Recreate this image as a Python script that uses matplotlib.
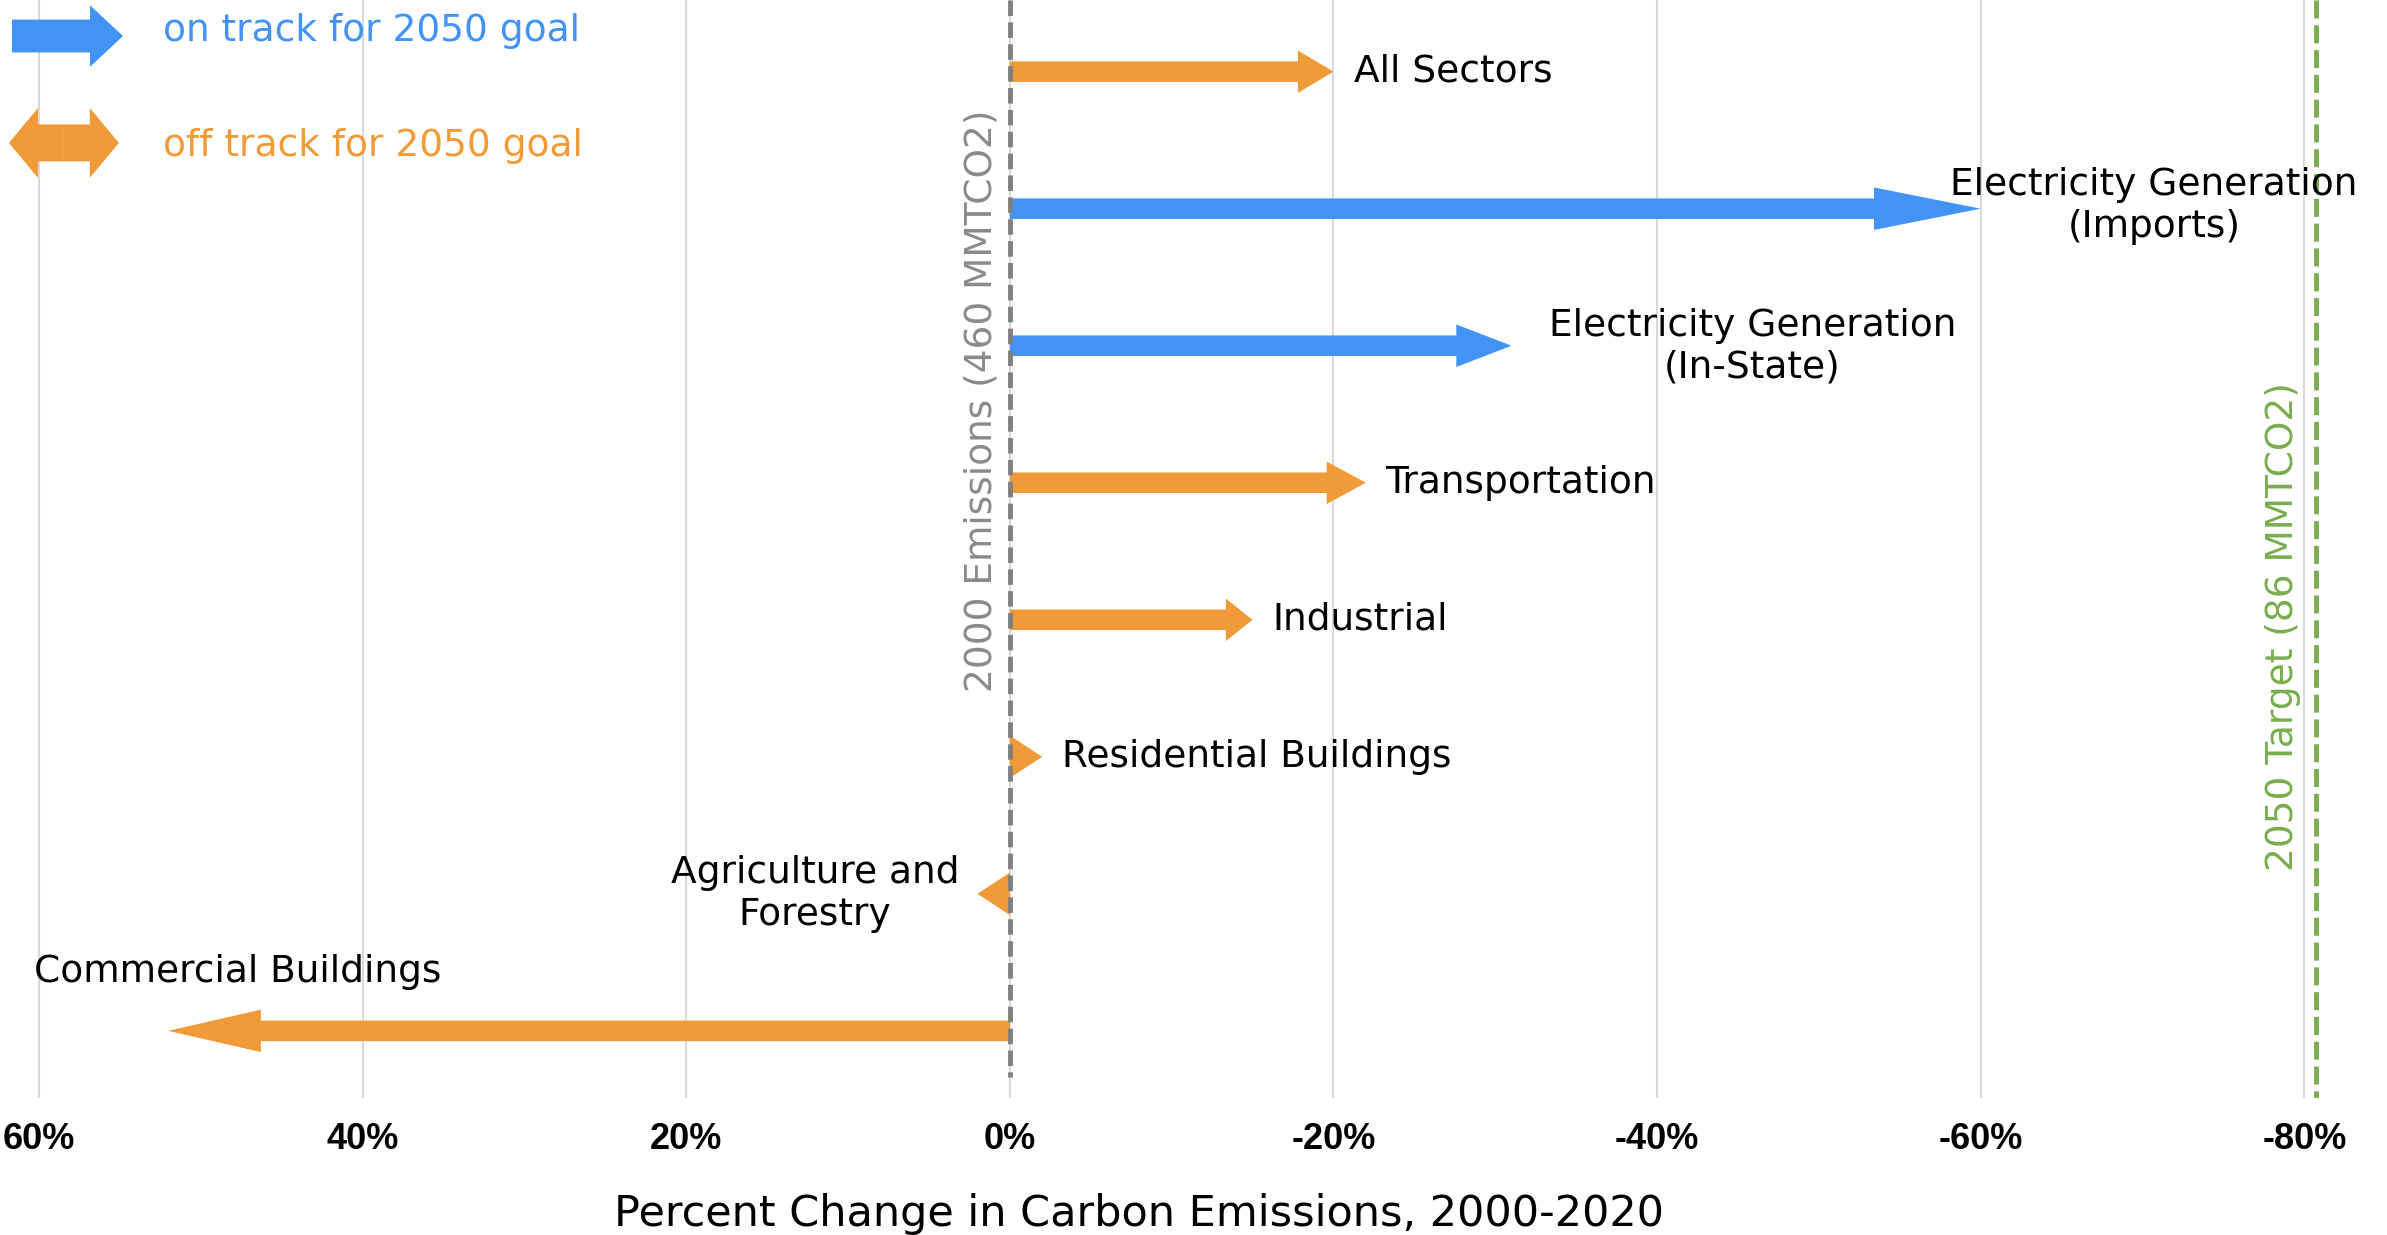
import matplotlib
matplotlib.use("Agg")
import matplotlib.pyplot as plt
from matplotlib.patches import FancyArrow

# data
sectors = ["All Sectors", "Electricity Generation\n(Imports)", "Electricity Generation\n(In-State)",
           "Transportation", "Industrial", "Residential Buildings", "Agriculture and\nForestry",
           "Commercial Buildings"]
change = [-20, -60, -31, -22, -15, -2, 2, 52]   # percent change 2000-2020
on_track = [False, True, True, False, False, False, False, False]
ticks = [60, 40, 20, 0, -20, -40, -60, -80]
tick_labels = ["60%", "40%", "20%", "0%", "-20%", "-40%", "-60%", "-80%"]
target_2050 = -80.7

BLUE = "#4293F5"
ORANGE = "#F09A38"
GREEN = "#79AD4E"

# label positions (x in data units, y in row units, alignment)
label_pos = [(-21.25, 0.0, "left"), (-70.7, 0.98, "center"), (-45.9, 2.01, "center"),
             (-23.2, 3.0, "left"), (-16.2, 4.0, "left"), (-3.2, 5.0, "left"),
             (12.05, 6.0, "center"), (60.3, 6.57, "left")]


def main():
    fig = plt.figure(figsize=(23.87, 12.35), dpi=100)
    ax = fig.add_axes([0, 1 - 1098 / 1235, 1, 1098 / 1235])
    ax.set_xlim(62.4, -85.1)
    ax.set_ylim(7.49, -0.523)
    for s in ax.spines.values():
        s.set_visible(False)
    ax.set_yticks([])
    ax.set_xticks(ticks)
    ax.set_xticklabels(tick_labels, fontfamily="Liberation Sans", fontweight="bold", fontsize=26)
    ax.tick_params(axis="x", length=0, pad=17)
    for t in ticks:
        ax.axvline(t, color="#d9d9d9", lw=1.5, zorder=0)

    # reference lines
    ax.vlines(0, -0.523, 7.34, color="#808080", lw=3.5, linestyles=(0, (3.2, 1.3)), zorder=3)
    ax.vlines(target_2050, -0.523, 7.49, color=GREEN, lw=3.5, linestyles=(0, (3.7, 1.4)), zorder=3)
    ax.text(1.72, 2.4, "2000 Emissions (460 MMTCO2)", rotation=90, ha="center", va="center",
            color="#8a8a8a", fontsize=27)
    ax.text(-78.65, 4.05, "2050 Target (86 MMTCO2)", rotation=90, ha="center", va="center",
            color=GREEN, fontsize=27)

    # arrows
    for i, v in enumerate(change):
        col = BLUE if on_track[i] else ORANGE
        hl = abs(v) * 0.11 if abs(v) > 5 else abs(v)
        ax.add_patch(FancyArrow(0, i, v, 0, width=0.15, head_width=0.31, head_length=hl,
                                length_includes_head=True, color=col, lw=0, zorder=2))
        x, y, ha = label_pos[i]
        ax.text(x, y, sectors[i], ha=ha, va="center", multialignment="center",
                fontsize=27, color="black", zorder=4)

    # legend
    ax.add_patch(FancyArrow(61.66, -0.26, -6.86, 0, width=0.24, head_width=0.45, head_length=2.04,
                            length_includes_head=True, color=BLUE, lw=0, zorder=2))
    ax.add_patch(FancyArrow(58.45, 0.52, -3.4, 0, width=0.27, head_width=0.51, head_length=1.8,
                            length_includes_head=True, color=ORANGE, lw=0, zorder=2))
    ax.add_patch(FancyArrow(58.45, 0.52, 3.4, 0, width=0.27, head_width=0.51, head_length=1.8,
                            length_includes_head=True, color=ORANGE, lw=0, zorder=2))
    ax.text(52.3, -0.30, "on track for 2050 goal", color=BLUE, fontsize=27, va="center")
    ax.text(52.3, 0.54, "off track for 2050 goal", color=ORANGE, fontsize=27, va="center")

    fig.text(0.477, 1 - 1214 / 1235, "Percent Change in Carbon Emissions, 2000-2020",
             ha="center", va="center", fontsize=31)

    fig.savefig("out.png", dpi=100)


if __name__ == "__main__":
    main()
